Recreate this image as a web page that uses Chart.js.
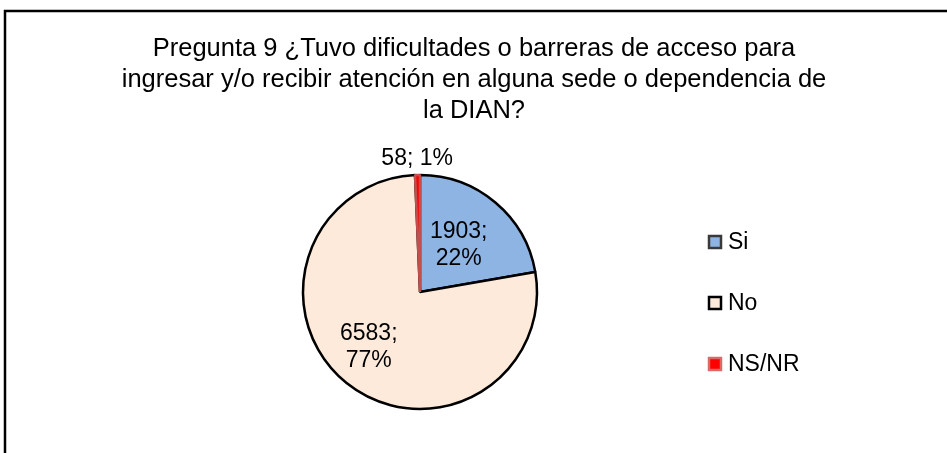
<!DOCTYPE html>
<html>
<head>
<meta charset="utf-8">
<script src="https://cdn.jsdelivr.net/npm/chart.js@4.4.0/dist/chart.umd.min.js"></script>
<style>
  body { margin: 0; background: #fff; }
  canvas { display: block; }
</style>
</head>
<body>
<canvas id="myChart" width="947" height="453"></canvas>
<script>
const titleLines = [
  "Pregunta 9 ¿Tuvo dificultades o barreras de acceso para",
  "ingresar y/o recibir atención en alguna sede o dependencia de",
  "la DIAN?"
]
const labels = ["Si", "No", "NS/NR"]
const values = [1903, 6583, 58]
const fills = ["#8EB4E3", "#FDEADA", "#FF0000"]
const borders = ["#000000", "#000000", "#C0504D"]
const legendBorders = ["#3a3a3a", "#000000", "#D96A6A"]

const FONT = "'Liberation Sans', Arial, sans-serif"

// frame, title, data labels and legend
const extras = {
  id: "extras",
  beforeDraw(chart) {
    const c = chart.ctx
    c.save()
    c.fillStyle = "#fff"
    c.fillRect(0, 0, chart.width, chart.height)
    c.strokeStyle = "#000"
    c.lineWidth = 2.5
    c.beginPath()
    c.moveTo(5, chart.height)
    c.lineTo(5, 11)
    c.lineTo(chart.width, 11)
    c.stroke()
    c.restore()
  },
  afterDraw(chart) {
    const c = chart.ctx
    c.save()
    c.fillStyle = "#000"
    c.textAlign = "center"
    c.textBaseline = "alphabetic"
    c.font = "25.5px " + FONT
    titleLines.forEach((t, i) => c.fillText(t, 474, 56 + i * 31))

    const total = values.reduce((a, b) => a + b, 0)
    const arcs = chart.getDatasetMeta(0).data
    c.font = "23px " + FONT
    c.textBaseline = "middle"
    const frac = [0.54, 0.63, 1.14]
    const nudge = [[-2, 1], [-5, -2], [0, 0]]
    arcs.forEach((arc, i) => {
      const p = arc.getProps(["x", "y", "startAngle", "endAngle", "outerRadius"])
      const mid = (p.startAngle + p.endAngle) / 2
      const r = p.outerRadius * frac[i]
      const x = p.x + Math.cos(mid) * r + nudge[i][0]
      const y = p.y + Math.sin(mid) * r + nudge[i][1]
      const pct = Math.round(values[i] / total * 100) + "%"
      if (i === 2) {
        c.fillText(values[i] + "; " + pct, x, y)
      } else {
        c.fillText(values[i] + ";", x, y - 13.5)
        c.fillText(pct, x, y + 13.5)
      }
    })

    // legend
    c.textAlign = "left"
    labels.forEach((l, i) => {
      const y = 242 + i * 61
      c.fillStyle = fills[i]
      c.fillRect(709, y - 6, 12, 12)
      c.strokeStyle = legendBorders[i]
      c.lineWidth = 2.5
      c.strokeRect(709, y - 6, 12, 12)
      c.fillStyle = "#000"
      c.fillText(l, 728, y + 1)
    })
    c.restore()
  }
}

const ctx = document.getElementById("myChart")
const myChart = new Chart(ctx, {
  type: "pie",
  data: {
    labels: labels,
    datasets: [{
      data: values,
      backgroundColor: fills,
      borderColor: borders,
      borderWidth: 2.5,
      hoverOffset: 0
    }]
  },
  options: {
    responsive: false,
    animation: false,
    radius: 117,
    layout: { padding: { left: 301, right: 408, top: 174, bottom: 43 } },
    plugins: {
      legend: { display: false },
      tooltip: { enabled: false }
    }
  },
  plugins: [extras]
})
</script>
</body>
</html>
